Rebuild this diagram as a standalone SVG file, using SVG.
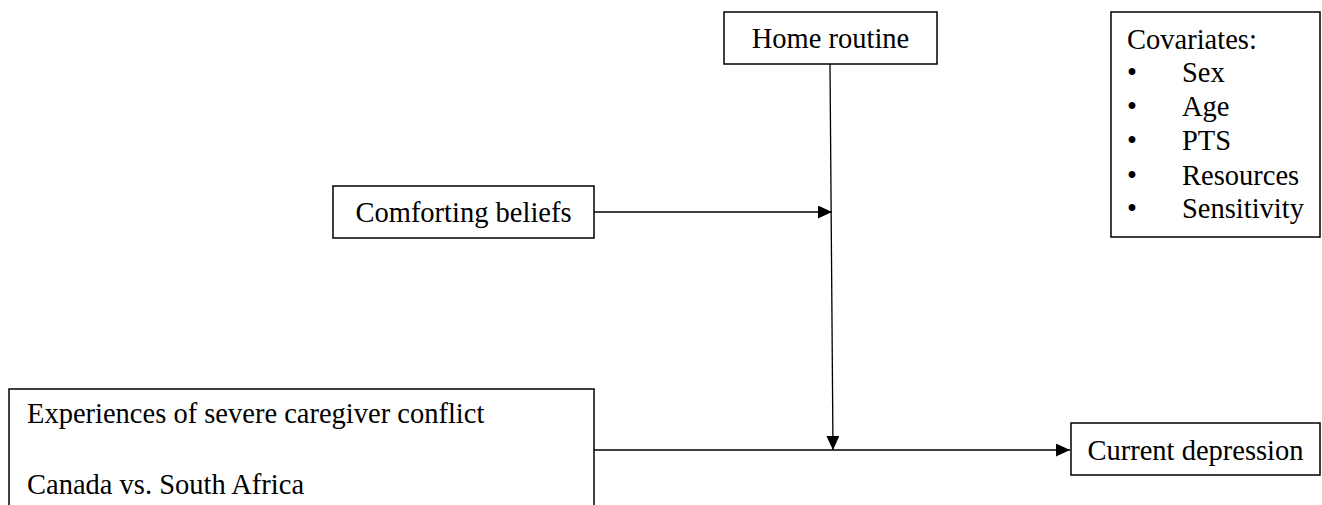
<svg xmlns="http://www.w3.org/2000/svg" width="1322" height="505" viewBox="0 0 1322 505">
<style>
.box{fill:#fff;stroke:#000;stroke-width:1.5}
.t{font-family:"Liberation Serif","Times New Roman",serif;font-size:28.5px;fill:#000}
.c{stroke:#000;stroke-width:1.3;fill:none}
</style>
<defs>
<marker id="ah" markerWidth="14" markerHeight="13" refX="14" refY="6.5" orient="auto" markerUnits="userSpaceOnUse" viewBox="0 0 14 13">
<path d="M0,0 L14,6.5 L0,13 z" fill="#000"/>
</marker>
</defs>
<g id="connectors">
<line class="c" x1="830" y1="64" x2="833" y2="450" marker-end="url(#ah)"/>
<line class="c" x1="594" y1="212" x2="832" y2="212" marker-end="url(#ah)"/>
<line class="c" x1="594" y1="450" x2="1070" y2="450" marker-end="url(#ah)"/>
</g>
<g id="home">
<rect class="box" x="724" y="12" width="213" height="52"/>
<text class="t" x="830.5" y="48" text-anchor="middle">Home routine</text>
</g>
<g id="covariates">
<rect class="box" x="1111" y="12" width="209" height="225"/>
<text class="t" x="1127" y="49">Covariates:</text>
<text class="t" x="1127" y="82">•</text><text class="t" x="1182" y="82">Sex</text>
<text class="t" x="1127" y="116">•</text><text class="t" x="1182" y="116">Age</text>
<text class="t" x="1127" y="150">•</text><text class="t" x="1182" y="150">PTS</text>
<text class="t" x="1127" y="185">•</text><text class="t" x="1182" y="185">Resources</text>
<text class="t" x="1127" y="218">•</text><text class="t" x="1182" y="218">Sensitivity</text>
</g>
<g id="comforting">
<rect class="box" x="333" y="186" width="261" height="52"/>
<text class="t" x="463.5" y="222" text-anchor="middle">Comforting beliefs</text>
</g>
<g id="experiences">
<rect class="box" x="9" y="389" width="585" height="130"/>
<text class="t" x="27" y="423">Experiences of severe caregiver conflict</text>
<text class="t" x="27" y="494">Canada vs. South Africa</text>
</g>
<g id="depression">
<rect class="box" x="1071" y="423" width="249" height="52"/>
<text class="t" x="1195.5" y="460" text-anchor="middle">Current depression</text>
</g>
</svg>
